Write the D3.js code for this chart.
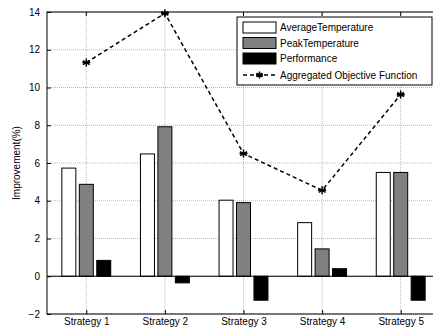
<!DOCTYPE html>
<html lang="en">
<head>
    <meta charset="UTF-8">
    <title>Improvement</title>
    <script src="https://d3js.org/d3.v7.min.js"></script>
    <style>
        body { margin: 0; background: #fff; }
        svg { display: block; font-family: "Liberation Sans", Arial, sans-serif; }
    </style>
</head>
<body>
<div id="chart"></div>
<script>
    var categories = ["Strategy 1", "Strategy 2", "Strategy 3", "Strategy 4", "Strategy 5"];
    var seriesNames = ["AverageTemperature", "PeakTemperature", "Performance"];
    var avgTemp = [5.73, 6.48, 4.03, 2.84, 5.5];
    var peakTemp = [4.87, 7.92, 3.9, 1.45, 5.5];
    var performance = [0.84, -0.35, -1.27, 0.4, -1.27];
    var objective = [11.32, 13.93, 6.5, 4.55, 9.63];
    var yTicks = [-2, 0, 2, 4, 6, 8, 10, 12, 14];
    var lineName = "Aggregated Objective Function";

    var width = 433, height = 329;
    var svg = d3.select("#chart").append("svg")
        .attr("width", width)
        .attr("height", height);

    var x = d3.scaleLinear().domain([0.5, 5.5]).range([47, 440]);
    var y = d3.scaleLinear().domain([-2, 14]).range([314, 12]);

    var series = [avgTemp, peakTemp, performance];
    var fills = ["#ffffff", "#808080", "#000000"];
    var offset = 0.222, barW = 0.178;

    // grid
    var grid = svg.append("g");
    grid.selectAll("line.gy").data(yTicks).enter().append("line")
        .attr("x1", x(0.5)).attr("x2", x(5.5))
        .attr("y1", function(d){ return y(d); })
        .attr("y2", function(d){ return y(d); })
        .attr("stroke", "#999").attr("stroke-width", 0.7)
        .attr("stroke-dasharray", "1,1");
    grid.selectAll("line.gx").data(categories).enter().append("line")
        .attr("x1", function(d, i){ return x(i + 1); })
        .attr("x2", function(d, i){ return x(i + 1); })
        .attr("y1", y(-2)).attr("y2", y(14))
        .attr("stroke", "#999").attr("stroke-width", 0.7)
        .attr("stroke-dasharray", "1,1");

    // bars
    series.forEach(function(vals, s) {
        svg.append("g").selectAll("rect").data(vals).enter().append("rect")
            .attr("x", function(d, i){ return x(i + 1 + (s - 1) * offset - barW / 2); })
            .attr("width", x(1 + barW) - x(1))
            .attr("y", function(d){ return y(Math.max(0, d)); })
            .attr("height", function(d){ return Math.abs(y(d) - y(0)); })
            .attr("fill", fills[s])
            .attr("stroke", "#000")
            .attr("stroke-width", 1);
    });

    // baseline
    svg.append("line")
        .attr("x1", x(0.5)).attr("x2", x(5.5))
        .attr("y1", y(0)).attr("y2", y(0))
        .attr("stroke", "#000").attr("stroke-width", 1);

    // axes box
    svg.append("rect")
        .attr("x", x(0.5)).attr("y", y(14))
        .attr("width", x(5.5) - x(0.5)).attr("height", y(-2) - y(14))
        .attr("fill", "none").attr("stroke", "#000").attr("stroke-width", 1);

    var yAxis = d3.axisLeft(y).tickValues(yTicks).tickSize(-4).tickPadding(7);
    svg.append("g").attr("transform", "translate(" + x(0.5) + ",0)").call(yAxis)
        .call(function(g){ g.select(".domain").remove(); })
        .selectAll("text").attr("font-size", 10).attr("font-family", "Liberation Sans, Arial, sans-serif");

    var xAxis = d3.axisBottom(x).tickValues([1, 2, 3, 4, 5])
        .tickFormat(function(d){ return categories[d - 1]; })
        .tickSize(-4).tickPadding(4);
    svg.append("g").attr("transform", "translate(0," + y(-2) + ")").call(xAxis)
        .call(function(g){ g.select(".domain").remove(); })
        .selectAll("text").attr("font-size", 10).attr("font-family", "Liberation Sans, Arial, sans-serif");

    svg.append("g").selectAll("line").data(categories).enter().append("line")
        .attr("x1", function(d, i){ return x(i + 1); })
        .attr("x2", function(d, i){ return x(i + 1); })
        .attr("y1", y(14)).attr("y2", y(14) + 4)
        .attr("stroke", "#000");

    svg.append("text")
        .attr("transform", "translate(20," + ((y(14) + y(-2)) / 2) + ") rotate(-90)")
        .attr("text-anchor", "middle")
        .attr("font-size", 10)
        .text("Improvement(%)");

    // objective line
    var line = d3.line().x(function(d, i){ return x(i + 1); }).y(function(d){ return y(d); });
    svg.append("path").datum(objective)
        .attr("d", line)
        .attr("fill", "none").attr("stroke", "#000")
        .attr("stroke-width", 1.5).attr("stroke-dasharray", "4,3");

    function star(g, cx, cy, r) {
        var p = "";
        [0, 60, 120].forEach(function(a) {
            var t = a * Math.PI / 180;
            p += "M" + (cx - r * Math.sin(t)) + "," + (cy - r * Math.cos(t)) +
                 "L" + (cx + r * Math.sin(t)) + "," + (cy + r * Math.cos(t));
        });
        p += "M" + (cx - r) + "," + cy + "L" + (cx + r) + "," + cy;
        g.append("path").attr("d", p).attr("stroke", "#000").attr("stroke-width", 1.5);
    }
    objective.forEach(function(d, i){ star(svg, x(i + 1), y(d), 4); });

    // legend
    var lg = svg.append("g").attr("transform", "translate(237,17)");
    lg.append("rect").attr("width", 195).attr("height", 68)
        .attr("fill", "#fff").attr("stroke", "#000").attr("stroke-width", 1);
    seriesNames.forEach(function(n, i) {
        lg.append("rect").attr("x", 6).attr("y", 5 + i * 15.5)
            .attr("width", 33).attr("height", 11)
            .attr("fill", fills[i]).attr("stroke", "#000");
        lg.append("text").attr("x", 43).attr("y", 10.5 + i * 15.5)
            .attr("dy", "0.35em").attr("font-size", 10).text(n);
    });
    lg.append("line").attr("x1", 6).attr("x2", 39).attr("y1", 58).attr("y2", 58)
        .attr("stroke", "#000").attr("stroke-width", 1.5).attr("stroke-dasharray", "4,3");
    star(lg, 22.5, 58, 3.5);
    lg.append("text").attr("x", 43).attr("y", 58).attr("dy", "0.35em")
        .attr("font-size", 10).text(lineName);
</script>
</body>
</html>
